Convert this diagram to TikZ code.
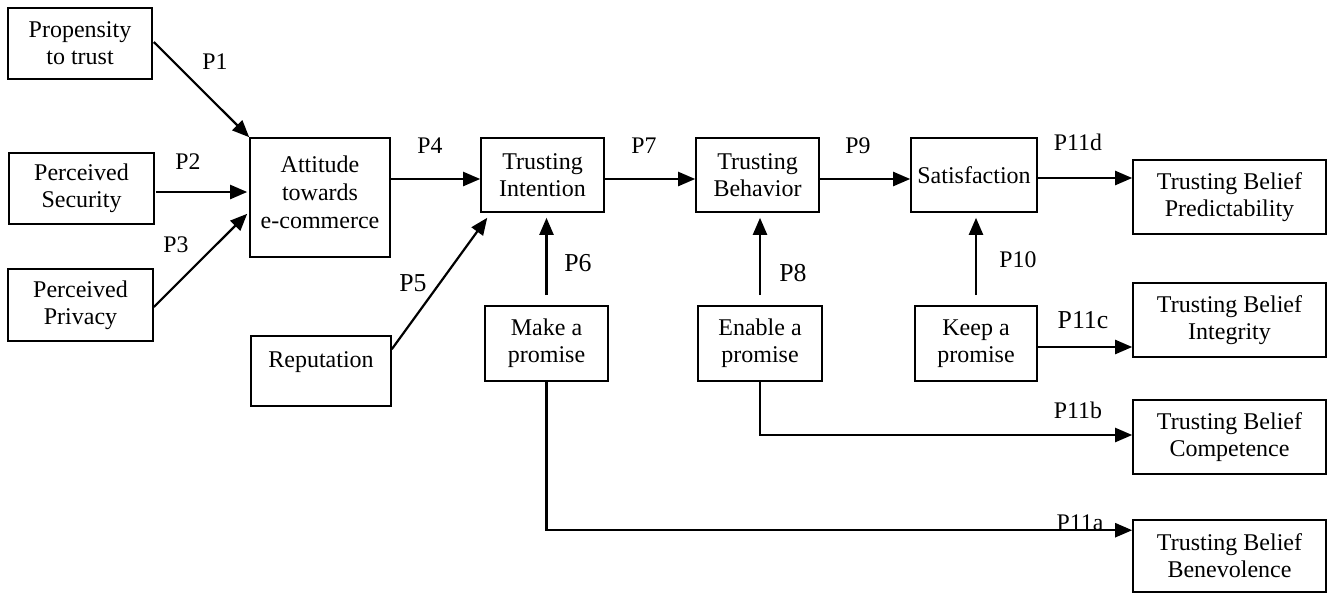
\documentclass[tikz,border=0pt]{standalone}
\usepackage{fontspec}
\setmainfont{Liberation Serif}
\usetikzlibrary{arrows.meta,calc}
\begin{document}
\begin{tikzpicture}[x=0.5pt,y=-0.5pt,
  box/.style={draw,line width=0.8pt,rectangle,align=center,inner sep=0pt,font=\fontsize{12}{13.6}\selectfont},
  txt/.style={align=center,inner sep=0pt,font=\fontsize{12}{14}\selectfont},
  arr/.style={line width=1.1pt,-{Triangle[length=8.5pt,width=7pt]}},
  lab/.style={font=\fontsize{11.9}{13.5}\selectfont,inner sep=0pt},
  labbig/.style={font=\fontsize{12.9}{14}\selectfont,inner sep=0pt}]
\useasboundingbox (0,0) rectangle (1331,594);

% left column
\node[box,minimum width=72pt,minimum height=35.5pt] (prop) at (80,43.5) {Propensity\\to trust};
\node[box,minimum width=72.5pt,minimum height=35.5pt] (sec) at (81.5,188.5) {Perceived\\Security};
\node[box,minimum width=72.5pt,minimum height=36pt] (priv) at (80.5,305) {Perceived\\Privacy};

% attitude and reputation
\node[box,minimum width=70pt,minimum height=59.5pt] (att) at (320,197.5) {};
\node[txt] (atttxt) at (320,192) {Attitude\\towards\\e-commerce};
\node[box,minimum width=70pt,minimum height=35pt] (rep) at (321,371) {};
\node[txt] (reptxt) at (321,362) {Reputation};

% main chain
\node[box,minimum width=61.5pt,minimum height=37pt] (ti) at (542.5,175) {Trusting\\Intention};
\node[box,minimum width=61.5pt,minimum height=37pt] (tb) at (757.5,175) {Trusting\\Behavior};
\node[box,minimum width=63pt,minimum height=37pt] (sat) at (974,175) {Satisfaction};

% promises
\node[box,minimum width=61.5pt,minimum height=37.5pt] (make) at (546.5,343.5) {Make a\\promise};
\node[box,minimum width=62pt,minimum height=37.5pt] (enable) at (760,343.5) {Enable a\\promise};
\node[box,minimum width=61pt,minimum height=37.5pt] (keep) at (976,343.5) {Keep a\\promise};

% beliefs
\node[box,minimum width=96.5pt,minimum height=37pt] (tbp) at (1229.5,197) {Trusting Belief\\Predictability};
\node[box,minimum width=96.5pt,minimum height=37pt] (tbi) at (1229.5,320) {Trusting Belief\\Integrity};
\node[box,minimum width=96.5pt,minimum height=37pt] (tbc) at (1229.5,437) {Trusting Belief\\Competence};
\node[box,minimum width=96.5pt,minimum height=36pt] (tbb) at (1229.5,556) {Trusting Belief\\Benevolence};

% connectors
\draw[arr] ($(prop.east)+(1,-1.5)$) -- (att.north west);
\draw[arr] ($(sec.east)+(1,3.5)$) -- ($(sec.east -| att.west)+(-2,3.5)$);
\draw[arr] ($(priv.east)+(0,2)$) -- ($(att.south west)+(-2,-44)$);
\draw[arr] ($(att.east)+(0,-18.5)$) -- ($(att.east -| ti.west)+(0,-18.5)$);
\draw[arr] ($(rep.north east)+(0,14)$) -- ($(ti.south west)+(7,5)$);
\draw[arr,shorten <=5pt,shorten >=2.5pt] (make.north) -- (make.north |- ti.south);
\draw[arr] ($(ti.east)+(0,4)$) -- ($(ti.east -| tb.west)+(0,4)$);
\draw[arr,shorten <=5pt,shorten >=2.5pt] (enable.north) -- (enable.north |- tb.south);
\draw[arr] ($(tb.east)+(0,4)$) -- ($(tb.east -| sat.west)+(0,4)$);
\draw[arr,shorten <=5pt,shorten >=2.5pt] (keep.north) -- (keep.north |- sat.south);
\draw[arr] ($(sat.east)+(0,3)$) -- ($(sat.east -| tbp.west)+(0,3)$);
\draw[arr] ($(keep.east)+(0,3.5)$) -- ($(keep.east -| tbi.west)+(0,3.5)$);
\draw[arr] (enable.south) |- ($(tbc.west)+(0,-2)$);
\draw[arr] (make.south) |- ($(tbb.north west)+(0,11)$);

% labels
\node[lab] (l1) at (215,62) {P1};
\node[lab] (l2) at (188,162) {P2};
\node[lab] (l3) at (176,245) {P3};
\node[lab] (l4) at (430,146) {P4};
\node[labbig] (l5) at (413,283) {P5};
\node[labbig] (l6) at (578,263) {P6};
\node[lab] (l7) at (644,146) {P7};
\node[labbig] (l8) at (793,273) {P8};
\node[lab] (l9) at (858,146) {P9};
\node[lab] (l10) at (1018,260) {P10};
\node[lab] (l11d) at (1078,142) {P11d};
\node[labbig] (l11c) at (1083,320) {P11c};
\node[lab] (l11b) at (1078,410) {P11b};
\node[lab,anchor=base] (l11a) at (1080,530) {P11a};
\end{tikzpicture}
\end{document}
